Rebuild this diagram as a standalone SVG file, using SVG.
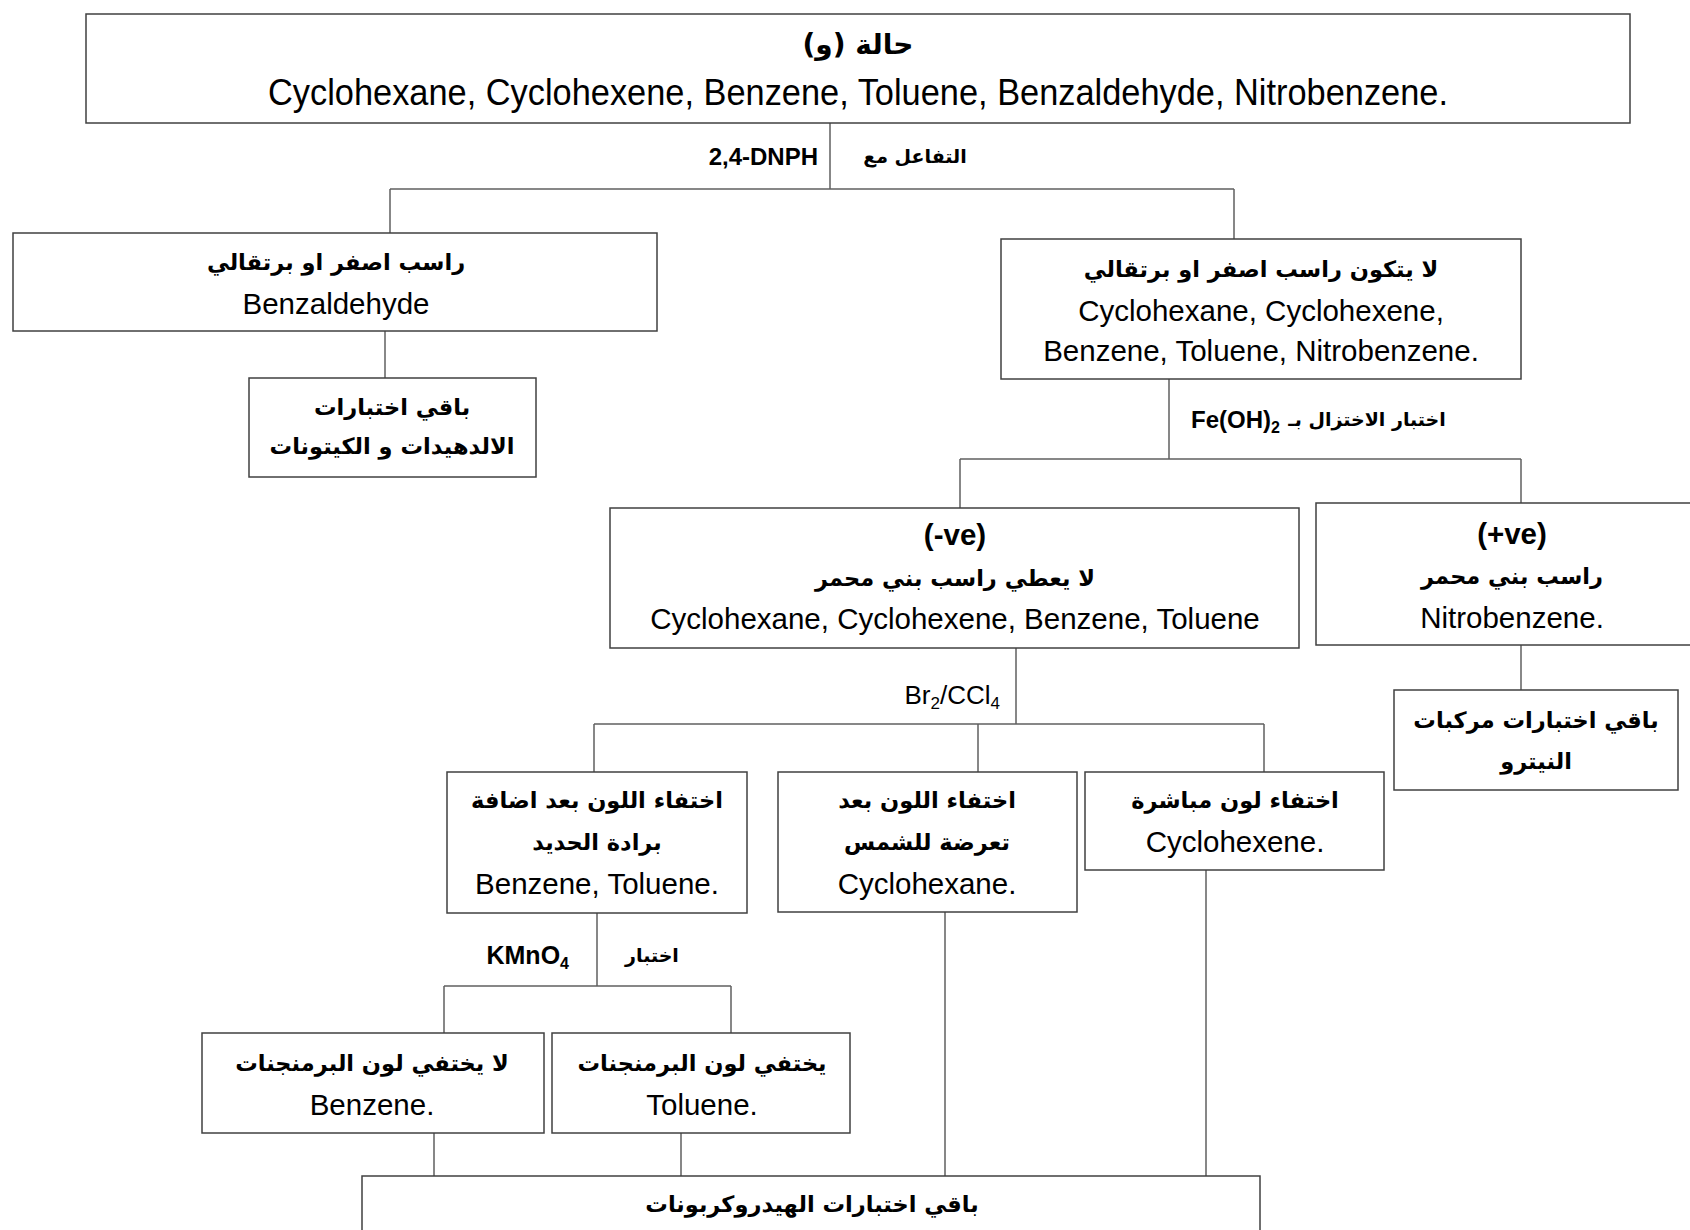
<svg xmlns="http://www.w3.org/2000/svg" width="1690" height="1230" viewBox="0 0 1690 1230">
<style>
.box{fill:#fff;stroke:#404040;stroke-width:1.5}
.ln{fill:none;stroke:#606060;stroke-width:1.5}
.en{font-family:"Liberation Sans",Arial,sans-serif;font-size:29.5px;fill:#000;text-anchor:middle}
.ar{font-family:"DejaVu Sans",sans-serif;font-size:22.5px;font-weight:bold;fill:#000;text-anchor:middle}
.lb{font-family:"Liberation Sans",Arial,sans-serif;font-size:24px;font-weight:bold;fill:#000}
.lba{font-family:"DejaVu Sans",sans-serif;font-size:19px;font-weight:bold;fill:#000;text-anchor:middle}
.b{font-weight:bold}
</style>
<rect width="1690" height="1230" fill="#fff"/>
<g id="connectors">
<path class="ln" d="M830,123 V189 M390,189 H1234 M390,189 V233 M1234,189 V239"/>
<path class="ln" d="M385,331 V378"/>
<path class="ln" d="M1169,379 V459 M960,459 H1521 M960,459 V508 M1521,459 V503"/>
<path class="ln" d="M1521,645 V690"/>
<path class="ln" d="M1016,648 V724 M594,724 H1264 M594,724 V772 M978,724 V772 M1264,724 V772"/>
<path class="ln" d="M597,913 V986 M444,986 H731 M444,986 V1033 M731,986 V1033"/>
<path class="ln" d="M434,1133 V1176 M681,1133 V1176 M945,912 V1176 M1206,870 V1176"/>
<text class="lb" x="818" y="165" text-anchor="end">2,4-DNPH</text>
<text class="lba" x="915" y="163" direction="rtl">التفاعل مع</text>
<text class="lb" x="1280" y="428" text-anchor="end">Fe(OH)<tspan font-size="16" dy="5">2</tspan></text>
<text class="lba" x="1367" y="426" direction="rtl">اختبار الاختزال بـ</text>
<text class="lb" x="1000" y="704" text-anchor="end" style="font-weight:normal;font-size:26px">Br<tspan font-size="17" dy="5">2</tspan><tspan dy="-5">/CCl</tspan><tspan font-size="17" dy="5">4</tspan></text>
<text class="lb" x="569" y="964" text-anchor="end" style="font-size:25px">KMnO<tspan font-size="16" dy="5">4</tspan></text>
<text class="lba" x="652" y="962" direction="rtl">اختبار</text>
</g>
<g id="n-start">
<rect class="box" x="86" y="14" width="1544" height="109"/>
<text class="ar" x="858" y="54" style="font-size:28px" direction="rtl">حالة (و)</text>
<text class="en" x="858" y="105" style="font-size:36px" textLength="1180" lengthAdjust="spacingAndGlyphs">Cyclohexane, Cyclohexene, Benzene, Toluene, Benzaldehyde, Nitrobenzene.</text>
</g>
<g id="n-yellow">
<rect class="box" x="13" y="233" width="644" height="98"/>
<text class="ar" x="336" y="270" direction="rtl">راسب اصفر او برتقالي</text>
<text class="en" x="336" y="314">Benzaldehyde</text>
</g>
<g id="n-aldehyde-tests">
<rect class="box" x="249" y="378" width="287" height="99"/>
<text class="ar" x="392" y="415" direction="rtl">باقي اختبارات</text>
<text class="ar" x="392" y="454" direction="rtl">الالدهيدات و الكيتونات</text>
</g>
<g id="n-no-ppt">
<rect class="box" x="1001" y="239" width="520" height="140"/>
<text class="ar" x="1261" y="277" direction="rtl">لا يتكون راسب اصفر او برتقالي</text>
<text class="en" x="1261" y="321">Cyclohexane, Cyclohexene,</text>
<text class="en" x="1261" y="361">Benzene, Toluene, Nitrobenzene.</text>
</g>
<g id="n-neg">
<rect class="box" x="610" y="508" width="689" height="140"/>
<text class="en b" x="955" y="545">(-ve)</text>
<text class="ar" x="955" y="586" direction="rtl">لا يعطي راسب بني محمر</text>
<text class="en" x="955" y="629">Cyclohexane, Cyclohexene, Benzene, Toluene</text>
</g>
<g id="n-pos">
<rect class="box" x="1316" y="503" width="400" height="142"/>
<text class="en b" x="1512" y="544">(+ve)</text>
<text class="ar" x="1512" y="584" direction="rtl">راسب بني محمر</text>
<text class="en" x="1512" y="628">Nitrobenzene.</text>
</g>
<g id="n-nitro-tests">
<rect class="box" x="1394" y="690" width="284" height="100"/>
<text class="ar" x="1536" y="728" direction="rtl">باقي اختبارات مركبات</text>
<text class="ar" x="1536" y="769" direction="rtl">النيترو</text>
</g>
<g id="n-iron">
<rect class="box" x="447" y="772" width="300" height="141"/>
<text class="ar" x="597" y="808" direction="rtl">اختفاء اللون بعد اضافة</text>
<text class="ar" x="597" y="850" direction="rtl">برادة الحديد</text>
<text class="en" x="597" y="894">Benzene, Toluene.</text>
</g>
<g id="n-sun">
<rect class="box" x="778" y="772" width="299" height="140"/>
<text class="ar" x="927" y="808" direction="rtl">اختفاء اللون بعد</text>
<text class="ar" x="927" y="850" direction="rtl">تعرضة للشمس</text>
<text class="en" x="927" y="894">Cyclohexane.</text>
</g>
<g id="n-direct">
<rect class="box" x="1085" y="772" width="299" height="98"/>
<text class="ar" x="1235" y="808" direction="rtl">اختفاء لون مباشرة</text>
<text class="en" x="1235" y="852">Cyclohexene.</text>
</g>
<g id="n-benzene">
<rect class="box" x="202" y="1033" width="342" height="100"/>
<text class="ar" x="372" y="1071" direction="rtl">لا يختفي لون البرمنجنات</text>
<text class="en" x="372" y="1115">Benzene.</text>
</g>
<g id="n-toluene">
<rect class="box" x="552" y="1033" width="298" height="100"/>
<text class="ar" x="702" y="1071" direction="rtl">يختفي لون البرمنجنات</text>
<text class="en" x="702" y="1115">Toluene.</text>
</g>
<g id="n-hydrocarbon-tests">
<rect class="box" x="362" y="1176" width="898" height="70"/>
<text class="ar" x="812" y="1212" direction="rtl">باقي اختبارات الهيدروكربونات</text>
</g>
</svg>
